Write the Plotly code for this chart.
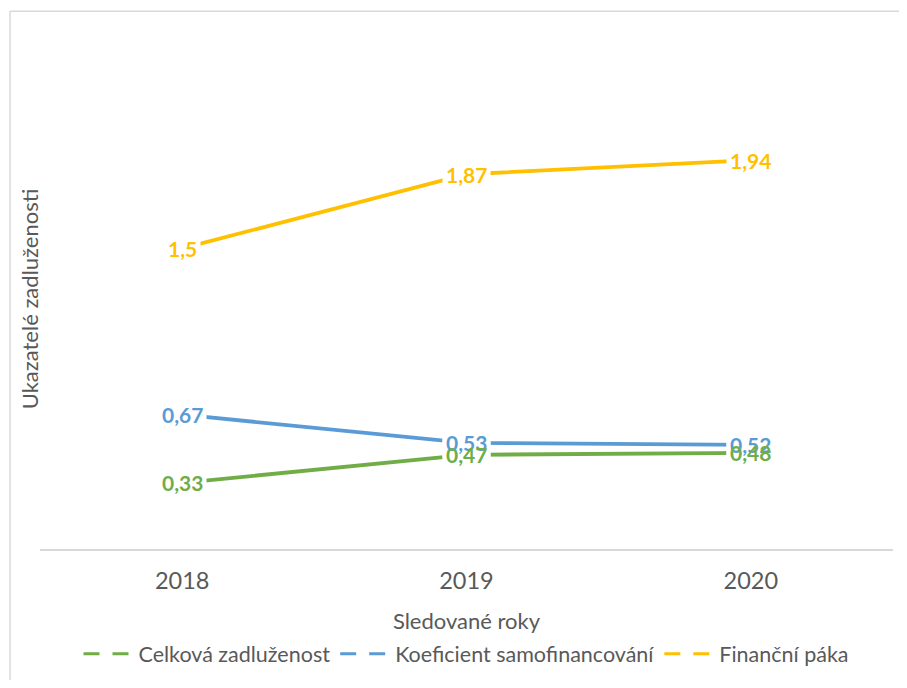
import plotly.graph_objects as go

years = ["2018", "2019", "2020"]
celkova = [0.33, 0.47, 0.48]
koeficient = [0.67, 0.53, 0.52]
financni = [1.5, 1.87, 1.94]

series_names = ["Celková zadluženost", "Koeficient samofinancování", "Finanční páka"]
series_values = [celkova, koeficient, financni]
series_colors = ["#70AD47", "#5B9BD5", "#FFC000"]

x_title = "Sledované roky"
y_title = "Ukazatelé zadluženosti"

FONT = "Lato"
GREY = "#595959"
BORDER = "#d9d9d9"

fig = go.Figure()

for name, vals, col in zip(series_names, series_values, series_colors):
    fig.add_trace(go.Scatter(
        x=years, y=vals, mode="lines", name=name,
        line=dict(color=col, width=3.8), showlegend=False, hoverinfo="skip",
    ))

# legend-only entries (Excel shows dashed keys)
for name, col in zip(series_names, series_colors):
    fig.add_trace(go.Scatter(
        x=[None], y=[None], mode="lines", name=name,
        line=dict(color=col, width=3, dash="16px,13px"),
    ))

def fmt(v):
    return f"{v:g}".replace(".", ",")

annotations = []
# white boxes hiding the line under each label
for vals in series_values:
    for i, v in enumerate(vals):
        annotations.append(dict(
            x=i, y=v, xref="x", yref="y", text="<b>" + fmt(v) + "</b>",
            showarrow=False, bgcolor="white", borderpad=3,
            font=dict(family=FONT, size=21, color="rgba(0,0,0,0)"),
        ))
# label texts (order: yellow, blue, green so green sits on top)
for idx in [2, 1, 0]:
    vals, col = series_values[idx], series_colors[idx]
    for i, v in enumerate(vals):
        annotations.append(dict(
            x=i, y=v, xref="x", yref="y", text="<b>" + fmt(v) + "</b>",
            showarrow=False, font=dict(family=FONT, size=21, color=col),
        ))

annotations.append(dict(
    x=-0.012, y=0.5, xref="paper", yref="paper", text=y_title,
    showarrow=False, textangle=-90, xanchor="center", yanchor="middle",
    font=dict(family=FONT, size=22, color=GREY),
))

# chart-area frame: only its left and top edges fall inside the picture
frame_left, frame_top, frame_right, frame_bottom = -0.0352, 1.0736, 1.08, -0.45
shapes = [
    dict(type="line", xref="paper", yref="paper", x0=frame_left, x1=frame_left,
         y0=frame_bottom, y1=frame_top, line=dict(color=BORDER, width=1.5), layer="below"),
    dict(type="line", xref="paper", yref="paper", x0=frame_left, x1=frame_right,
         y0=frame_top, y1=frame_top, line=dict(color=BORDER, width=1.5), layer="below"),
]

fig.update_layout(
    width=891, height=672,
    margin=dict(l=32, r=6, t=40, b=129),
    paper_bgcolor="white", plot_bgcolor="white",
    font=dict(family=FONT, size=20, color=GREY),
    showlegend=True,
    legend=dict(
        orientation="h", x=0.5, xanchor="center", y=-0.209, yanchor="middle",
        font=dict(family=FONT, size=21.5, color=GREY),
        itemwidth=50, tracegroupgap=0,
    ),
    annotations=annotations,
    shapes=shapes,
)

fig.update_xaxes(
    type="category", range=[-0.5, 2.5],
    showline=True, linecolor=BORDER, linewidth=1.5,
    showgrid=False, zeroline=False, ticks="",
    tickfont=dict(family=FONT, size=23.5, color=GREY),
    ticklabelstandoff=10,
    title=dict(text=x_title, font=dict(family=FONT, size=22, color=GREY), standoff=21),
)
fig.update_yaxes(
    range=[0, 2.5], showline=False, showgrid=False, zeroline=False,
    showticklabels=False, ticks="",
)

fig.write_html("out.html")
